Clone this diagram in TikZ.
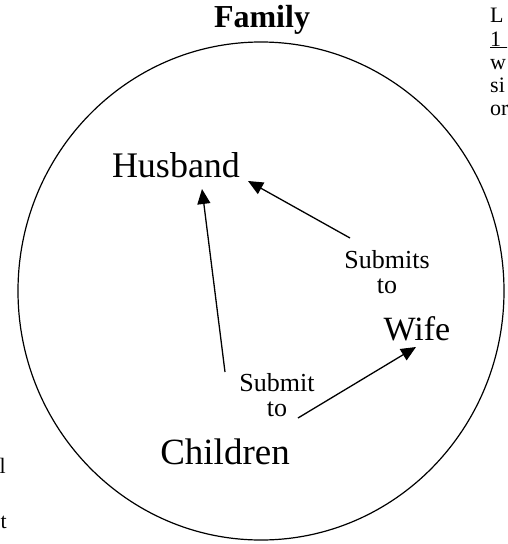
\documentclass[tikz,border=0pt]{standalone}
\usepackage{fontspec}
\setmainfont{Liberation Serif}
\usetikzlibrary{arrows.meta}
\begin{document}
\begin{tikzpicture}[x=1pt,y=-1pt,
  member/.style={inner sep=0pt,anchor=base,font=\fontsize{35}{40}\selectfont},
  lbl/.style={inner sep=0pt,anchor=base,align=center,font=\fontsize{26}{25}\selectfont},
  edge/.style={inner sep=0pt,anchor=base west,font=\fontsize{22}{23}\selectfont},
  conn/.style={line width=1.3pt,-{Triangle[length=15pt,width=13pt]}}]
\useasboundingbox (0,0) rectangle (507,544);
\clip (0,0) rectangle (507,544);
\fill[white] (0,0) rectangle (507,544);
% title
\node[inner sep=0pt,anchor=base,font=\bfseries\fontsize{32}{36}\selectfont] (title) at (262,27) {Family};
% circle
\draw[line width=1.2pt] (261,291) ellipse [x radius=243, y radius=249];
% members
\node[member,font=\fontsize{36}{40}\selectfont] (husband) at (176,177) {Husband};
\node[member,font=\fontsize{34}{40}\selectfont] (wife) at (417,340) {Wife};
\node[member,font=\fontsize{37}{40}\selectfont] (children) at (225,464) {Children};
% labels (base anchor = baseline of the last line)
\node[lbl] (lw) at (387,293) {Submits\\to};
\node[lbl] (lc) at (277,416) {Submit\\to};
% connector end points
\coordinate (c1s) at (225,372);
\coordinate (c1e) at (202,189);
\coordinate (c2s) at (350,238);
\coordinate (c2e) at (248,181);
\coordinate (c3s) at (298,418);
\coordinate (c3e) at (416,347);
\draw[conn] (c1s) -- (c1e);
\draw[conn] (c2s) -- (c2e);
\draw[conn] (c3s) -- (c3e);
% fragments of neighbouring text (cut off by the page edge)
\node[edge] (f1) at (490,22) {L};
\node[edge] (f2) at (490,46) {\underline{1\hspace{12pt}}};
\node[edge] (f3) at (490,69) {w};
\node[edge] (f4) at (490,92) {si};
\node[edge] (f5) at (490,115) {or};
\node[edge,anchor=base east] (f6) at (6,473) {l};
\node[edge,anchor=base east] (f7) at (7,528) {t};
\end{tikzpicture}
\end{document}
